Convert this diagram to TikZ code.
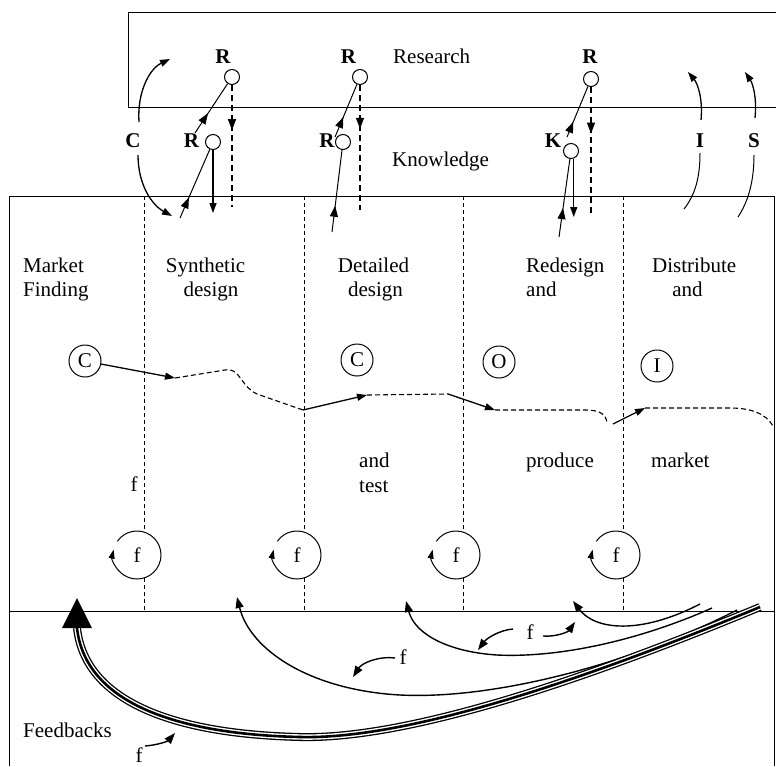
\documentclass[tikz,border=0pt]{standalone}
\usepackage{fontspec}
\setmainfont{Liberation Serif}
\usetikzlibrary{arrows.meta,decorations.markings}

\begin{document}
\begin{tikzpicture}[x=1pt,y=-1pt,
  font=\fontsize{21pt}{25pt}\selectfont,
  boxline/.style={line width=1pt},
  divider/.style={line width=0.9pt, dash pattern=on 4pt off 3pt},
  flow/.style={line width=1.1pt, dash pattern=on 5pt off 3pt},
  rdash/.style={line width=1.3pt, dash pattern=on 6pt off 4pt},
  tipstyle/.style={-{Triangle[length=10pt,width=7pt]}},
  arr/.style={line width=1.3pt, tipstyle},
  thin/.style={line width=1pt},
  midarrow/.style={postaction={decorate}, decoration={markings,
      mark=at position #1 with {\arrow{Triangle[length=11pt,width=8pt]}}}},
  lbl/.style={inner sep=0pt, anchor=base west},
  clbl/.style={inner sep=0pt, anchor=base},
  blbl/.style={inner sep=0pt, anchor=base, font=\fontsize{21pt}{25pt}\selectfont\bfseries},
  rc/.style={circle, draw, line width=1pt, minimum size=15pt, inner sep=0pt},
  sc/.style={circle, draw, line width=1pt, minimum size=32pt, inner sep=0pt},
  fc/.style={circle, minimum size=48pt, inner sep=0pt},
  fbarrow/.style={line width=1.4pt, -{Triangle[length=11pt,width=8pt]}},
  looparrow/.style={line width=1pt, -{Triangle[length=9pt,width=6pt]}},
]
\useasboundingbox (0,0) rectangle (776,766);

% Research band and process frame
\draw[boxline] (776,12) -- (128,12) -- (128,107) -- (776,107);
\draw[boxline] (9.5,766) -- (9.5,196) -- (774.5,196) -- (774.5,766);
\draw[boxline] (9.5,611) -- (774.5,611);

% Band and column titles
\node[lbl] (research) at (393,63) {Research};
\node[lbl] (knowledge) at (392,166) {Knowledge};
\node[lbl] (mkt1) at (23,272) {Market};
\node[lbl] (mkt2) at (23,296) {Finding};
\node[clbl] (syn1) at (205.5,272) {Synthetic};
\node[clbl] (syn2) at (211,296) {design};
\node[clbl] (det1) at (373.5,272) {Detailed};
\node[clbl] (det2) at (375.5,296) {design};
\node[lbl] (red1) at (526,272) {Redesign};
\node[lbl] (red2) at (526,296) {and};
\node[lbl] (dis1) at (652,272) {Distribute};
\node[clbl] (dis2) at (687.5,296) {and};
\node[clbl] (fmk) at (134,491) {f};
\node[lbl] (tst1) at (359,467) {and};
\node[lbl] (tst2) at (359,492) {test};
\node[lbl] (prod) at (526,467) {produce};
\node[lbl] (mkt) at (651,467) {market};
\node[lbl] (fbk) at (23,737) {Feedbacks};

% Bold letters of the research/knowledge exchange
\node[blbl] (Rt1) at (223,63) {R};
\node[blbl] (Rt2) at (348.5,63) {R};
\node[blbl] (Rt3) at (590,63) {R};
\node[blbl] (Cl) at (133,147) {C};
\node[blbl] (Rl1) at (191.5,147) {R};
\node[blbl] (Rl2) at (327,147) {R};
\node[blbl] (Kl) at (553,147) {K};
\node[blbl] (Il) at (700,147) {I};
\node[blbl] (Sl) at (754,147) {S};

\node[rc] (r1) at (232,77) {};
\node[rc] (r3) at (360,77) {};
\node[rc] (r5) at (591,79) {};
\node[rc] (r2) at (213,142) {};
\node[rc] (r4) at (343,142) {};
\node[rc] (k1) at (571,151) {};

% Synthetic design column
\coordinate (a1) at (195,133);
\draw[thin, midarrow=0.4] (a1) -- (r1);
\coordinate (a2) at (232,207);
\draw[rdash, midarrow=0.37] (r1) -- (a2);
\coordinate (a3) at (180,218);
\draw[thin, midarrow=0.3] (a3) -- (r2);
\coordinate (a4) at (213,213);
\draw[arr] (r2) -- (a4);

% C arrows
\coordinate (c1s) at (139,122);
\coordinate (c1e) at (170,59);
\draw[arr] (c1s) .. controls (137,93) and (149,69) .. (c1e);
\coordinate (c2s) at (138,155);
\coordinate (c2e) at (172,216);
\draw[arr] (c2s) .. controls (138,185) and (152,205) .. (c2e);

% Detailed design column
\coordinate (b1) at (335,137);
\draw[thin, midarrow=0.38] (b1) -- (r3);
\coordinate (b2) at (360,210);
\draw[rdash, midarrow=0.35] (r3) -- (b2);
\coordinate (b3) at (332,232);
\draw[thin, midarrow=0.32] (b3) -- (r4);

% Redesign column
\coordinate (k0) at (567,137);
\draw[thin, midarrow=0.3] (k0) -- (r5);
\coordinate (k2) at (591,213);
\draw[rdash, midarrow=0.37] (r5) -- (k2);
\coordinate (k3) at (559,237);
\draw[thin, midarrow=0.37] (k3) -- (k1);
\coordinate (k4) at (575,217);
\draw[arr] (k1.-70) -- (k1.-70 |- k4);

% I and S arrows
\coordinate (i1s) at (701,120);
\coordinate (i1e) at (688,72);
\draw[arr] (i1s) .. controls (703,100) and (698,84) .. (i1e);
\coordinate (i2s) at (700,153);
\coordinate (i2e) at (684,209);
\draw[thin] (i2s) .. controls (700,178) and (695,195) .. (i2e);
\coordinate (s1s) at (755,118);
\coordinate (s1e) at (745,72);
\draw[arr] (s1s) .. controls (757,98) and (753,84) .. (s1e);
\coordinate (s2s) at (754,155);
\coordinate (s2e) at (738,217);
\draw[thin] (s2s) .. controls (754,182) and (748,202) .. (s2e);

% Process flow
\node[sc] (cc1) at (85,361) {C};
\node[sc] (cc2) at (357,360) {C};
\node[sc] (oo) at (499,362) {O};
\node[sc] (ii) at (657,366) {I};

\coordinate (p1) at (175,378);
\draw[arr] (cc1) -- (p1);
\coordinate (p2) at (303,410);
\draw[flow] (p1) -- (225,370) .. controls (240,367) and (240,386) .. (257,394) -- (p2);
\coordinate (p3) at (367,395);
\draw[arr] (p2) -- (p3);
\coordinate (p4) at (448,394);
\draw[flow] (p3) -- (p4);
\coordinate (p5) at (495,410);
\draw[arr] (p4) -- (p5);
\coordinate (p6) at (607,423);
\draw[flow] (p5) -- (585,410) .. controls (600,410) and (606,414) .. (p6);
\coordinate (p7) at (613,424);
\coordinate (p8) at (645,408);
\draw[arr] (p7) -- (p8);
\coordinate (p9) at (773,426);
\draw[flow] (p8) -- (730,408) .. controls (752,408) and (766,414) .. (p9);

% Column dividers with feedback loops
\foreach \x/\n in {144/f1, 304/f2, 463/f3, 623/f4}{
  \node[fc] (\n) at (\x-7,555) {f};
  \draw[divider] (\x,196) -- (\x,532);
  \draw[divider] (\x,578) -- (\x,611);
  \draw[looparrow] (\n.center) ++(215:24) arc[start angle=215, end angle=553, radius=24];
}

% Feedback arrows
\coordinate (g1s) at (700,604);
\coordinate (g1e) at (573,601);
\draw[fbarrow] (g1s) .. controls (640,635) and (595,630) .. (g1e);
\coordinate (g2s) at (712,608);
\coordinate (g2e) at (406,601);
\draw[fbarrow] (g2s) .. controls (640,640) and (560,658) .. (497,655) .. controls (450,652) and (415,635) .. (g2e);
\coordinate (g3s) at (737,610);
\coordinate (g3e) at (237,597);
\draw[fbarrow] (g3s) .. controls (640,660) and (500,700) .. (400,695) .. controls (310,690) and (250,650) .. (g3e);
\coordinate (g4s) at (760,607);
\coordinate (g4e) at (77,628);
\draw[line width=2.6pt, preaction={draw, line width=1.3pt, double, double distance=5.4pt}]
  (g4s) .. controls (620,665) and (420,740) .. (300,737) .. controls (170,734) and (85,700) .. (g4e);
\fill (62,628) -- (92,628) -- (77,598) -- cycle;

% Feedback labels
\node[clbl] (fa) at (530,639) {f};
\coordinate (fa1) at (513,629);
\coordinate (fa2) at (478,650);
\draw[fbarrow] (fa1) .. controls (500,630) and (487,638) .. (fa2);
\coordinate (fa3) at (543,636);
\coordinate (fa4) at (575,622);
\draw[fbarrow] (fa3) .. controls (556,637) and (568,632) .. (fa4);
\node[clbl] (fm) at (403,664) {f};
\coordinate (fm1) at (395,658);
\coordinate (fm2) at (353,677);
\draw[fbarrow] (fm1) .. controls (378,656) and (362,663) .. (fm2);
\node[clbl] (fl) at (139,762) {f};
\coordinate (fl1) at (145,746);
\coordinate (fl2) at (175,733);
\draw[fbarrow] (fl1) .. controls (158,745) and (168,741) .. (fl2);
\end{tikzpicture}
\end{document}
